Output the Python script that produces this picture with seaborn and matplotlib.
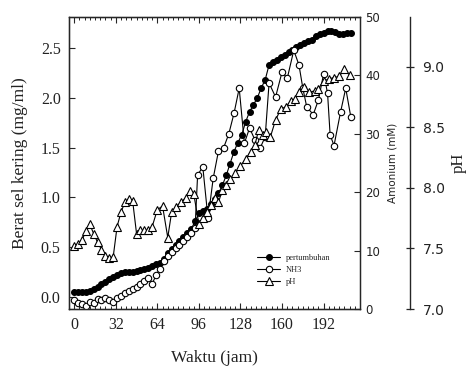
import numpy as np
import pandas as pd
import seaborn as sns
import matplotlib.pyplot as plt
from matplotlib.ticker import MultipleLocator, FormatStrFormatter

# values
t_growth = [0, 3, 6, 9, 12, 15, 18, 21, 24, 27, 30, 33, 36, 39, 42, 45, 48, 51, 54, 57,
            60, 63, 66, 69, 72, 75, 78, 81, 84, 87, 90, 93, 96, 99, 102, 105, 108, 111, 114, 117,
            120, 123, 126, 129, 132, 135, 138, 141, 144, 147, 150, 153, 156, 159, 162, 165, 168, 171, 174, 177,
            180, 183, 186, 189, 192, 195, 198, 201, 204, 207, 210, 213]
growth = [0.05, 0.05, 0.05, 0.05, 0.06, 0.08, 0.10, 0.13, 0.15, 0.18,
          0.20, 0.22, 0.24, 0.25, 0.25, 0.25, 0.26, 0.27, 0.28, 0.29,
          0.31, 0.33, 0.34, 0.38, 0.44, 0.48, 0.52, 0.56, 0.60, 0.64,
          0.68, 0.76, 0.84, 0.86, 0.88, 0.93, 0.98, 1.04, 1.12, 1.22,
          1.34, 1.46, 1.55, 1.63, 1.76, 1.86, 1.93, 2.00, 2.10, 2.18,
          2.33, 2.36, 2.38, 2.41, 2.43, 2.46, 2.48, 2.51, 2.53, 2.55,
          2.57, 2.58, 2.62, 2.64, 2.65, 2.67, 2.67, 2.66, 2.64, 2.64,
          2.65, 2.65]

t_nh3 = [0, 3, 6, 9, 12, 15, 18, 21, 24, 27, 30, 33, 36, 39, 42, 45, 48, 51, 54, 57,
         60, 63, 66, 69, 72, 75, 78, 81, 84, 87, 90, 93, 95, 99, 103, 107, 111, 115, 119, 123,
         127, 131, 135, 139, 143, 147, 150, 155, 160, 164, 169, 173, 176, 179, 184, 188, 192, 195, 197, 200,
         205, 209, 213]
nh3 = [1.5, 1.0, 0.8, 0.6, 1.2, 1.0, 1.8, 1.6, 1.9, 1.5,
       1.2, 1.9, 2.3, 2.7, 3.1, 3.4, 3.8, 4.2, 4.8, 5.3,
       4.3, 5.8, 6.8, 8.3, 9.0, 9.8, 10.4, 11.0, 11.6, 12.3,
       13.0, 13.8, 23.0, 24.3, 15.5, 22.4, 27.0, 27.6, 30.0, 33.5,
       37.8, 28.4, 31.0, 29.0, 27.5, 29.5, 38.7, 36.3, 40.6, 39.5,
       44.3, 41.8, 37.8, 34.6, 33.3, 35.8, 40.3, 37.0, 29.8, 28.0,
       33.7, 37.8, 32.8]

t_ph = [0, 3, 6, 9, 12, 15, 18, 21, 24, 27, 30, 33, 36, 39, 42, 45, 48, 51, 54, 57,
        60, 64, 68, 72, 75, 78, 82, 86, 89, 92, 96, 99, 102, 105, 108, 111, 114, 117, 120, 124,
        128, 132, 136, 139, 142, 145, 148, 151, 155, 159, 163, 167, 170, 173, 177, 181, 185, 188, 192, 196,
        200, 204, 208, 212]
ph = [7.52, 7.54, 7.57, 7.64, 7.70, 7.62, 7.55, 7.49, 7.44, 7.42,
      7.43, 7.68, 7.80, 7.88, 7.91, 7.89, 7.62, 7.65, 7.65, 7.65,
      7.68, 7.82, 7.85, 7.59, 7.80, 7.84, 7.88, 7.92, 7.97, 7.95,
      7.70, 7.75, 7.80, 7.86, 7.92, 7.88, 7.98, 8.02, 8.07, 8.12,
      8.18, 8.24, 8.30, 8.35, 8.48, 8.44, 8.46, 8.42, 8.56, 8.65,
      8.67, 8.72, 8.73, 8.79, 8.83, 8.79, 8.80, 8.82, 8.88, 8.90,
      8.91, 8.92, 8.98, 8.93]

x_ticks = [0, 32, 64, 96, 128, 160, 192]

sns.set_style("ticks")
plt.rcParams['font.family'] = ['Liberation Serif', 'DejaVu Serif']
txt = '#222222'

fig = plt.figure(figsize=(4.67, 3.67), dpi=100)
ax = fig.add_axes([0.1478, 0.158, 0.6231, 0.7956])
ax2 = ax.twinx()
ax3 = ax.twinx()

line_kw = dict(color='k', linewidth=0.8, mec='k', mew=0.8, sort=False)
sns.lineplot(x=t_growth, y=growth, ax=ax, marker='o', ms=4.2, mfc='k',
             label='pertumbuhan', **line_kw)
sns.lineplot(x=t_nh3, y=nh3, ax=ax2, marker='o', ms=4.6, mfc='white',
             label='NH3', **line_kw)
sns.lineplot(x=t_ph, y=ph, ax=ax3, marker='^', ms=5.2, mfc='white',
             label='pH', **line_kw)

# left axis
ax.set_xlim(-4, 220)
ax.set_ylim(-0.12, 2.81)
ax.set_xticks(x_ticks)
ax.xaxis.set_minor_locator(MultipleLocator(4))
ax.yaxis.set_major_locator(MultipleLocator(0.5))
ax.yaxis.set_major_formatter(FormatStrFormatter('%.1f'))
ax.tick_params(axis='x', which='both', direction='in', top=True, bottom=True,
               labelsize=11.5, labelcolor=txt, pad=6)
ax.tick_params(axis='x', which='major', length=4, width=0.8)
ax.tick_params(axis='x', which='minor', length=2.5, width=0.7)
ax.tick_params(axis='y', direction='in', length=4, width=0.8,
               labelsize=11.5, labelcolor=txt, pad=6)
ax.set_xlabel('Waktu (jam)', fontsize=12.5, color=txt)
ax.xaxis.set_label_coords(0.5, -0.14)
ax.set_ylabel('Berat sel kering (mg/ml)', fontsize=12.5, color=txt)
ax.yaxis.set_label_coords(-0.14, 0.5)
for s in ax.spines.values():
    s.set_linewidth(1.0)

# amonium axis
ax2.set_ylim(0, 50)
ax2.yaxis.set_major_locator(MultipleLocator(10))
ax2.tick_params(axis='y', direction='in', length=4, width=0.8,
                labelsize=8.5, labelcolor=txt, pad=4)
for lab in ax2.get_yticklabels():
    lab.set_family('DejaVu Sans')
ax2.set_ylabel('Amonium (mM)', fontsize=7.5, color=txt, family='DejaVu Sans')
ax2.yaxis.set_label_coords(1.096, 0.5)

# pH axis
ax3.spines['right'].set_position(('axes', 1.172))
ax3.spines['right'].set_linewidth(1.0)
ax3.set_ylim(7.0, 9.41)
ax3.yaxis.set_major_locator(MultipleLocator(0.5))
ax3.yaxis.set_major_formatter(FormatStrFormatter('%.1f'))
ax3.tick_params(axis='y', direction='inout', length=6, width=0.9,
                labelsize=10, labelcolor=txt, pad=6)
for lab in ax3.get_yticklabels():
    lab.set_family('DejaVu Sans')
ax3.set_ylabel('pH', fontsize=12, color=txt)
ax3.yaxis.set_label_coords(1.313, 0.5)

for a in (ax2, ax3):
    leg = a.get_legend()
    if leg is not None:
        leg.remove()

handles = []
labels = []
for a in (ax, ax2, ax3):
    h, l = a.get_legend_handles_labels()
    handles += h
    labels += l
ax.get_legend().remove()
ax3.legend(handles, labels, loc='upper left', bbox_to_anchor=(0.646, 0.19),
           frameon=False, fontsize=6, handlelength=2.8, handletextpad=0.7,
           labelspacing=0.5, borderpad=0, borderaxespad=0)

fig.savefig('out.png', dpi=100)
